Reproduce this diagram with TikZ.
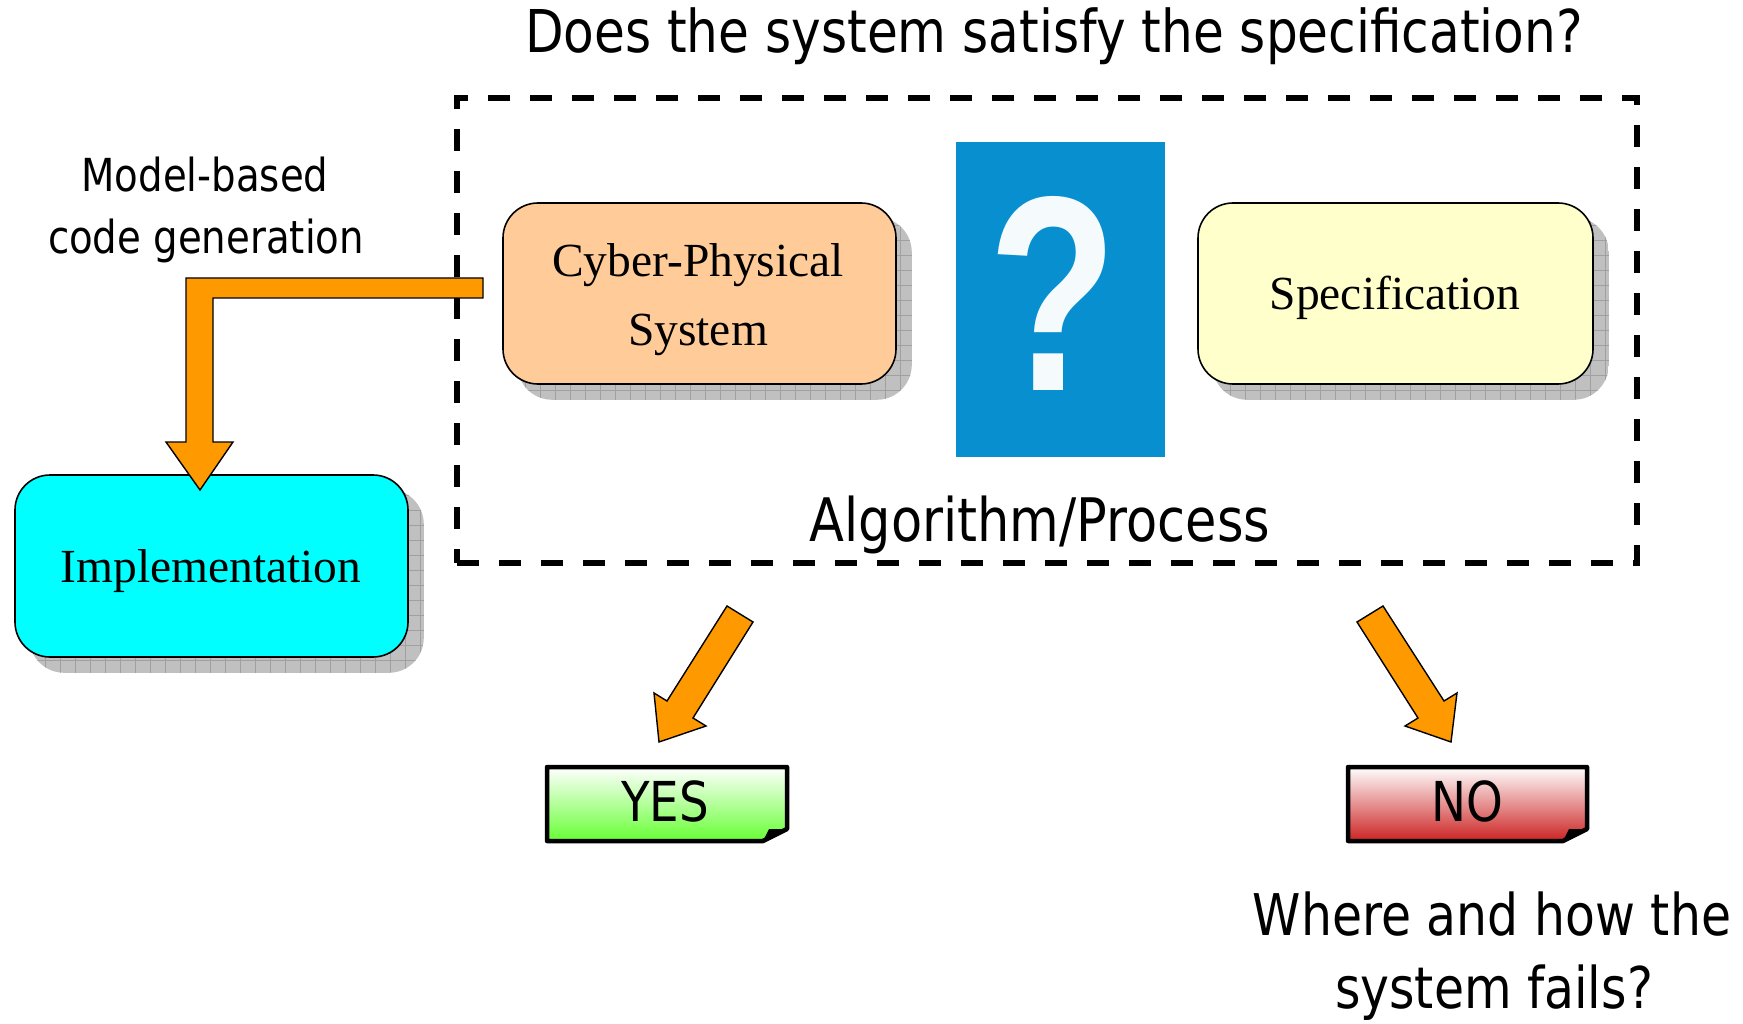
\documentclass[tikz,border=0pt]{standalone}
\usepackage{fontspec}
\setmainfont{Liberation Serif}
\newfontfamily\comic{DejaVu Sans}[FakeStretch=0.85]
\newfontfamily\qfont{Liberation Sans}[FakeStretch=0.76]
\usetikzlibrary{calc}
\definecolor{cpsfill}{RGB}{255,204,153}
\definecolor{specfill}{RGB}{255,255,204}
\definecolor{implfill}{RGB}{0,255,255}
\definecolor{orangefill}{RGB}{255,153,0}
\definecolor{qblue}{RGB}{8,143,207}
\definecolor{shadowgray}{RGB}{192,192,192}
\definecolor{gridgray}{RGB}{160,160,160}
\definecolor{yesgreen}{RGB}{102,255,51}
\definecolor{nored}{RGB}{204,34,34}
\newcommand\gridshadow[1]{%
  \begin{scope}
    \clip[rounded corners=35pt] ($(#1.north west)+(15,15)$) rectangle ($(#1.south east)+(15,15)$);
    \fill[shadowgray] ($(#1.north west)+(15,15)$) rectangle ($(#1.south east)+(15,15)$);
    \draw[gridgray, line width=0.8pt, step=15pt] ($(#1.north west)+(15,15)$) grid ($(#1.south east)+(15,15)$);
  \end{scope}}
\tikzset{
  box/.style={draw=black, line width=1.6pt, rounded corners=35pt, inner sep=0pt},
  boxtext/.style={inner sep=0pt, anchor=base, font=\fontsize{47.5}{68}\selectfont},
  dashbox/.style={draw=black, line width=5.5pt, dash pattern=on 22pt off 20pt, inner sep=0pt},
  comictext/.style={font=\comic, inner sep=0pt, anchor=base},
  blockarrow/.style={draw=black, line width=1.4pt, fill=orangefill, line join=miter},
  answer/.style={draw=black, line width=4.5pt, line join=round},
}
\begin{document}
\begin{tikzpicture}[x=1pt, y=-1pt]
\useasboundingbox (0,0) rectangle (1743,1024);

% title
\node[comictext, font=\comic\fontsize{59}{70}\selectfont] (title) at (1054,53) {Does the system satisfy the specification?};

% dashed algorithm box
\node[dashbox, minimum width=1180pt, minimum height=465pt] (alg) at (1047,330.5) {};
\node[comictext, font=\comic\fontsize{60}{70}\selectfont] (algtxt) at (1040,541) {Algorithm/Process};

% boxes with grid shadows
\path (699.5,293.5) node[box, minimum width=393pt, minimum height=181pt, draw=none] (cpsref) {};
\gridshadow{cpsref}
\node[box, fill=cpsfill, minimum width=393pt, minimum height=181pt] (cps) at (699.5,293.5) {};
\node[boxtext] (cps1) at (698,277) {Cyber-Physical};
\node[boxtext] (cps2) at (698,345) {System};

\path (1395.5,293.5) node[box, minimum width=395pt, minimum height=181pt, draw=none] (specref) {};
\gridshadow{specref}
\node[box, fill=specfill, minimum width=395pt, minimum height=181pt] (spec) at (1395.5,293.5) {};
\node[boxtext] (spectxt) at (1395,310) {Specification};

\path (211.5,566) node[box, minimum width=393pt, minimum height=182pt, draw=none] (implref) {};
\gridshadow{implref}
\node[box, fill=implfill, minimum width=393pt, minimum height=182pt] (impl) at (211.5,566) {};
\node[boxtext] (impltxt) at (211,582) {Implementation};

% question image
\node[fill=qblue, minimum width=209pt, minimum height=315pt, inner sep=0pt] (qimg) at (1060.5,299.5) {};
\node[anchor=base, inner sep=0pt, text=white!96!qblue, font=\qfont\bfseries\fontsize{278}{278}\selectfont] (qmark) at (1053,390) {?};

% model-based code generation
\node[comictext, font=\comic\fontsize{45.5}{55}\selectfont] (mb1) at (205,192) {Model-based};
\node[comictext, font=\comic\fontsize{45.5}{55}\selectfont] (mb2) at (206,254) {code generation};

% L-shaped block arrow
\coordinate (lstart) at (483,288);
\draw[blockarrow] (483,278) -- (186,278) -- (186,442) -- (166,442) -- (200,490)
  -- (233,442) -- (213,442) -- (213,298) -- (483,298) -- cycle;

% answer arrows
\draw[blockarrow] (753,622) -- (693,718) -- (706,726) -- (659,742) -- (654,693) -- (667,701) -- (727,606) -- cycle;
\draw[blockarrow] (1357,622) -- (1418,718) -- (1405,726) -- (1451,742) -- (1457,693) -- (1444,701) -- (1383,606) -- cycle;

% YES box
\path[answer, top color=white, bottom color=yesgreen] (547,767) -- (787,767) -- (787,829) -- (763,841) -- (547,841) -- cycle;
\fill[black] (763,841) -- (769,829) -- (787,829) -- cycle;
\node[comictext, font=\comic\fontsize{55}{60}\selectfont] (yes) at (665,821) {YES};

% NO box
\path[answer, top color=white, bottom color=nored] (1348,767) -- (1587,767) -- (1587,829) -- (1563,841) -- (1348,841) -- cycle;
\fill[black] (1563,841) -- (1569,829) -- (1587,829) -- cycle;
\node[comictext, font=\comic\fontsize{55}{60}\selectfont] (no) at (1467,821) {NO};

% where and how
\node[comictext, font=\comic\fontsize{57.5}{67}\selectfont] (wh1) at (1492,935) {Where and how the};
\node[comictext, font=\comic\fontsize{57.5}{67}\selectfont] (wh2) at (1494,1008) {system fails?};
\end{tikzpicture}
\end{document}
